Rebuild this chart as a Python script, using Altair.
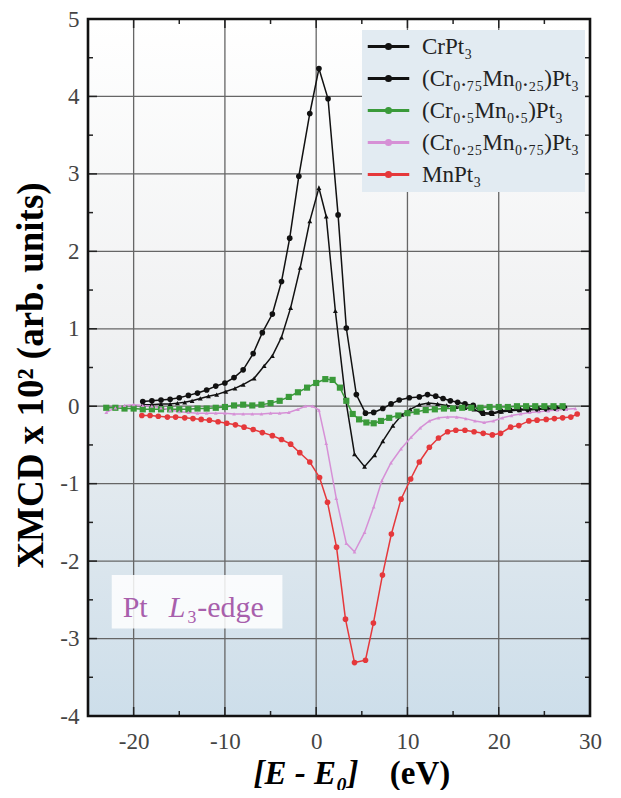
import altair as alt
import pandas as pd

W, H = 502, 697

labels = ["CrPt₃", "(Cr₀.₇₅Mn₀.₂₅)Pt₃", "(Cr₀.₅Mn₀.₅)Pt₃", "(Cr₀.₂₅Mn₀.₇₅)Pt₃", "MnPt₃"]
colors = ["#111111", "#111111", "#3a9a3a", "#d690d6", "#e5383b"]
shapes = ["circle", "triangle-up", "square", "triangle-up", "circle"]
sizes = [32, 24, 38, 14, 32]
widths = [1.5, 1.5, 2.8, 1.0, 1.3]

cr_x = [-19, -18, -17, -16, -15, -14, -13, -12, -11, -10, -9, -8, -6.9, -5.9, -4.8, -3.8, -2.9, -1.9, -0.7,
        0.3, 1.3, 2.4, 3.3, 4.4, 5.4, 6.3, 7.3, 8.2, 9.1, 10.2, 11.3, 12.2, 13.1, 13.9, 14.7, 15.5, 16.3, 17.2,
        18.2, 19.2, 20.2, 21.2, 22.2, 23.2, 24.2, 25.2, 26.2, 27.2]
cr_y = [0.06, 0.07, 0.08, 0.09, 0.11, 0.14, 0.17, 0.21, 0.26, 0.30, 0.37, 0.47, 0.68, 0.95, 1.19, 1.61, 2.17, 2.97, 3.78,
        4.36, 3.97, 2.47, 1.01, 0.15, -0.09, -0.08, -0.03, 0.03, 0.08, 0.11, 0.12, 0.15, 0.13, 0.10, 0.07, 0.05, 0.03, 0.01,
        -0.08, -0.09, -0.06, -0.05, -0.04, -0.04, -0.03, -0.03, -0.02, -0.02]

c75_x = [-19, -18, -17, -16, -15.2, -14.4, -13.6, -12.7, -11.8, -10.9, -9.9, -8.9, -8.0, -6.8, -5.7, -4.8, -3.8, -2.8,
         -1.75, -0.7, 0.3, 1.1, 2.1, 3.2, 4.2, 5.3, 6.4, 7.3, 8.4, 9.4, 10.3, 11.3, 12.3, 13.3, 14.3, 15.3, 16.3, 17.3,
         18.3, 19.3, 20.3, 21.3, 22.3, 23.3, 24.3, 25.3, 26.3, 27.3]
c75_y = [0.02, 0.02, 0.03, 0.03, 0.04, 0.05, 0.07, 0.10, 0.13, 0.15, 0.19, 0.23, 0.28, 0.36, 0.52, 0.65, 0.89, 1.27,
         1.79, 2.39, 2.82, 2.45, 1.23, 0.11, -0.62, -0.78, -0.63, -0.45, -0.25, -0.11, -0.04, 0.02, 0.04, 0.03, 0.01, -0.01,
         -0.02, -0.04, -0.10, -0.10, -0.07, -0.06, -0.05, -0.05, -0.04, -0.04, -0.03, -0.03]

c50_x = [-23, -22, -21, -20, -19, -18, -17, -16, -15, -14, -13, -12, -11, -10, -9, -8, -7, -6, -5, -4, -3, -2, -1, 0,
         1, 1.8, 2.6, 3.3, 4.0, 4.7, 5.5, 6.3, 7.1, 8, 9, 10, 11, 12, 13, 14, 15, 16, 17, 18, 19, 20, 21, 22, 23, 24,
         25, 26, 27]
c50_y = [-0.02, -0.02, -0.03, -0.03, -0.04, -0.04, -0.04, -0.04, -0.04, -0.04, -0.03, -0.03, -0.02, -0.01, 0.01, 0.02,
         0.01, 0.02, 0.04, 0.07, 0.12, 0.18, 0.24, 0.30,
         0.35, 0.34, 0.24, 0.07, -0.10, -0.17, -0.21, -0.22, -0.19, -0.15, -0.12, -0.09, -0.07, -0.05, -0.04, -0.03,
         -0.03, -0.02, -0.02, -0.02, -0.01, -0.01, -0.01, 0.0, 0.0, 0.0, 0.0, 0.0, 0.0]

c25_x = [-23, -22, -21, -20, -19, -18, -17, -16, -15, -14, -13, -12, -11, -10, -9, -8, -7, -6, -5, -4, -3, -2,
         -1.2, -0.4, 0.3, 1.1, 2.2, 3.3, 4.2, 5.3, 6.3, 7.2, 8.2, 9.3, 10.4, 11.4, 12.4, 13.4, 14.4, 15.4, 16.4,
         17.4, 18.4, 19.4, 20.4, 21.4, 22.4, 23.4, 24.4, 25.4, 26.4, 27.4, 28.4]
c25_y = [-0.08, -0.02, 0.01, 0.02, 0.01, 0.0, -0.02, -0.05, -0.07, -0.08, -0.09, -0.09, -0.09, -0.09, -0.10, -0.10,
         -0.10, -0.10, -0.09, -0.09, -0.08, -0.04, 0.0, 0.0, -0.05, -0.48, -1.19, -1.77, -1.88, -1.63, -1.30, -0.96,
         -0.73, -0.55, -0.40, -0.28, -0.19, -0.15, -0.14, -0.14, -0.16, -0.19, -0.21, -0.19, -0.15, -0.12, -0.10,
         -0.08, -0.07, -0.06, -0.05, -0.04, -0.03]

mn_x = [-19.1, -18.2, -17.3, -16.3, -15.4, -14.4, -13.5, -12.6, -11.7, -10.75, -9.8, -8.85, -7.9, -6.9, -5.9,
        -4.8, -3.8, -2.8, -1.8, -0.7, 0.37, 1.24, 2.23, 3.21, 4.2, 5.4, 6.27, 7.26, 8.24, 9.3, 10.35, 11.3, 12.4,
        13.4, 14.4, 15.3, 16.3, 17.3, 18.3, 19.3, 20.2, 21.3, 22.2, 23.3, 24.2, 25.2, 26.1, 27.0, 27.9, 28.6]
mn_y = [-0.12, -0.12, -0.13, -0.14, -0.14, -0.15, -0.16, -0.17, -0.18, -0.20, -0.22, -0.24, -0.27, -0.30, -0.34,
        -0.38, -0.43, -0.49, -0.60, -0.72, -0.92, -1.24, -1.82, -2.75, -3.31, -3.28, -2.80, -2.18, -1.65, -1.20,
        -0.94, -0.72, -0.53, -0.41, -0.33, -0.31, -0.31, -0.33, -0.35, -0.37, -0.35, -0.27, -0.25, -0.19, -0.18,
        -0.17, -0.16, -0.15, -0.14, -0.10]

x_ticks = [-20, -10, 0, 10, 20, 30]
y_ticks = [-4, -3, -2, -1, 0, 1, 2, 3, 4, 5]
x_grid = [-20, -10, 0, 10, 20]
y_grid = [-3, -2, -1, 0, 1, 2, 3, 4]
x_minor = [-15, -5, 5, 15, 25]
y_minor = [-3.5, -2.5, -1.5, -0.5, 0.5, 1.5, 2.5, 3.5, 4.5]

ann_box_x = [-22.4, -3.7]
ann_box_y = [-2.18, -2.87]
ann_pos = [-21.2, -2.72]

series = [(labels[0], cr_x, cr_y), (labels[1], c75_x, c75_y), (labels[2], c50_x, c50_y),
          (labels[3], c25_x, c25_y), (labels[4], mn_x, mn_y)]
rows = []
for name, xs_, ys_ in series:
    for i, (a, b) in enumerate(zip(xs_, ys_)):
        rows.append({"series": name, "x": a, "y": b, "i": i})
df = pd.DataFrame(rows)

SERIF = "Liberation Serif"
xs = alt.Scale(domain=[-25, 30], nice=False, zero=False)
ys = alt.Scale(domain=[-4, 5], nice=False, zero=False)

x_axis = alt.Axis(values=x_ticks, title=None, labelFont=SERIF, labelFontSize=23, labelColor="#444",
                  labelPadding=14, ticks=False, domain=False, grid=False, labelFlush=False,
                  labelExpr="'' + datum.value")
y_axis = alt.Axis(values=y_ticks, title="XMCD   x 10²   (arb. units)", titleFont=SERIF, titleFontSize=37,
                  titleFontWeight="bold", titleColor="#000", titleX=-57, titleY=356, titleBaseline="middle",
                  labelFont=SERIF, labelFontSize=23, labelColor="#444", labelPadding=9, ticks=False,
                  domain=False, grid=False, labelFlush=False, labelExpr="'' + datum.value")

LEG_PATH = ("M-1,-0.07L3,-0.07L3,0.07L-1,0.07Z "
            "M0.72,0A0.28,0.28 0 1 1 1.28,0A0.28,0.28 0 1 1 0.72,0Z")
legend = alt.Legend(title=None, orient="none", legendX=274, legendY=11,
                    symbolType=LEG_PATH, symbolSize=400, symbolStrokeWidth=0,
                    symbolOpacity=1, labelFont=SERIF, labelFontSize=23,
                    labelColor="#222", labelOffset=32, rowPadding=8, padding=5,
                    fillColor="#e2ebf2", labelLimit=400)


def X(field):
    return alt.X(field, scale=xs, axis=x_axis)


def Y(field):
    return alt.Y(field, scale=ys, axis=y_axis)


one = pd.DataFrame({"a": [0]})
bg = alt.Chart(one).mark_rect(
    color=alt.Gradient(gradient="linear", x1=0, x2=0, y1=0, y2=1,
                       stops=[alt.GradientStop(color="#ffffff", offset=0),
                              alt.GradientStop(color="#f0f1f2", offset=0.45),
                              alt.GradientStop(color="#cddeea", offset=1)])
).encode(x=alt.value(0), x2=alt.value(W), y=alt.value(0), y2=alt.value(H))

gx = alt.Chart(pd.DataFrame({"t": x_grid})).mark_rule(color="#666", strokeWidth=1.3).encode(
    x=X("t:Q"), y=alt.value(0), y2=alt.value(H))
gy = alt.Chart(pd.DataFrame({"t": y_grid})).mark_rule(color="#666", strokeWidth=1.3).encode(
    y=Y("t:Q"), x=alt.value(0), x2=alt.value(W))

box = alt.Chart(pd.DataFrame({"x1": [ann_box_x[0]], "x2": [ann_box_x[1]], "y1": [ann_box_y[0]], "y2": [ann_box_y[1]]})
                ).mark_rect(color="#ffffff", opacity=0.85).encode(
    x=X("x1:Q"), x2="x2:Q", y=Y("y1:Q"), y2="y2:Q")

tick_layers = []
for vals, ln in ((x_grid, 9), (x_minor, 5)):
    d = pd.DataFrame({"t": vals})
    tick_layers.append(alt.Chart(d).mark_rule(color="#222", strokeWidth=1.5).encode(
        x=X("t:Q"), y=alt.value(H), y2=alt.value(H - ln)))
    tick_layers.append(alt.Chart(d).mark_rule(color="#222", strokeWidth=1.5).encode(
        x=X("t:Q"), y=alt.value(0), y2=alt.value(ln)))
for vals, ln in ((y_grid, 9), (y_minor, 5)):
    d = pd.DataFrame({"t": vals})
    tick_layers.append(alt.Chart(d).mark_rule(color="#222", strokeWidth=1.5).encode(
        y=Y("t:Q"), x=alt.value(0), x2=alt.value(ln)))
    tick_layers.append(alt.Chart(d).mark_rule(color="#222", strokeWidth=1.5).encode(
        y=Y("t:Q"), x=alt.value(W), x2=alt.value(W - ln)))

color_enc = alt.Color("series:N", scale=alt.Scale(domain=labels, range=colors), legend=legend)

lines = alt.Chart(df).mark_line().encode(
    x=X("x:Q"), y=Y("y:Q"),
    color=color_enc,
    strokeWidth=alt.StrokeWidth("series:N", scale=alt.Scale(domain=labels, range=widths), legend=None),
    order="i:Q",
)

point_layers = []
for k, name in enumerate(labels):
    point_layers.append(
        alt.Chart(df[df["series"] == name]).mark_point(
            filled=True, opacity=1, shape=shapes[k], size=sizes[k]
        ).encode(x=X("x:Q"), y=Y("y:Q"), color=color_enc)
    )

ann_df = pd.DataFrame({"x": [ann_pos[0]], "y": [ann_pos[1]]})
ann_color = "#a85fac"
ann1 = alt.Chart(ann_df).mark_text(text="Pt", font=SERIF, fontSize=30, color=ann_color, align="left",
                                   baseline="alphabetic").encode(x=X("x:Q"), y=Y("y:Q"))
ann2 = alt.Chart(ann_df).mark_text(text="L", font=SERIF, fontSize=30, fontStyle="italic", color=ann_color,
                                   align="left", baseline="alphabetic", dx=46).encode(x=X("x:Q"), y=Y("y:Q"))
ann3 = alt.Chart(ann_df).mark_text(text="₃-edge", font=SERIF, fontSize=30, color=ann_color,
                                   align="left", baseline="alphabetic", dx=64).encode(x=X("x:Q"), y=Y("y:Q"))

frame = alt.Chart(one).mark_rect(filled=False, stroke="#111", strokeWidth=2.6).encode(
    x=alt.value(0), x2=alt.value(W), y=alt.value(0), y2=alt.value(H))

xt1 = alt.Chart(one).mark_text(text="[E - E₀]", font=SERIF, fontSize=33, fontWeight="bold",
                               fontStyle="italic", align="center", baseline="alphabetic", color="#000").encode(
    x=alt.value(218), y=alt.value(H + 68))
xt2 = alt.Chart(one).mark_text(text="(eV)", font=SERIF, fontSize=33, fontWeight="bold",
                               align="center", baseline="alphabetic", color="#000").encode(
    x=alt.value(332), y=alt.value(H + 68))

chart = alt.layer(bg, gx, gy, box, *tick_layers, lines, *point_layers, ann1, ann2, ann3, frame, xt1, xt2
                  ).properties(
    width=W, height=H, autosize=alt.AutoSizeParams(type="none"),
    padding={"left": 80, "top": 11, "right": 23, "bottom": 74},
).configure_view(stroke=None)

chart.save("out.html", embed_options={"renderer": "svg", "actions": False})
